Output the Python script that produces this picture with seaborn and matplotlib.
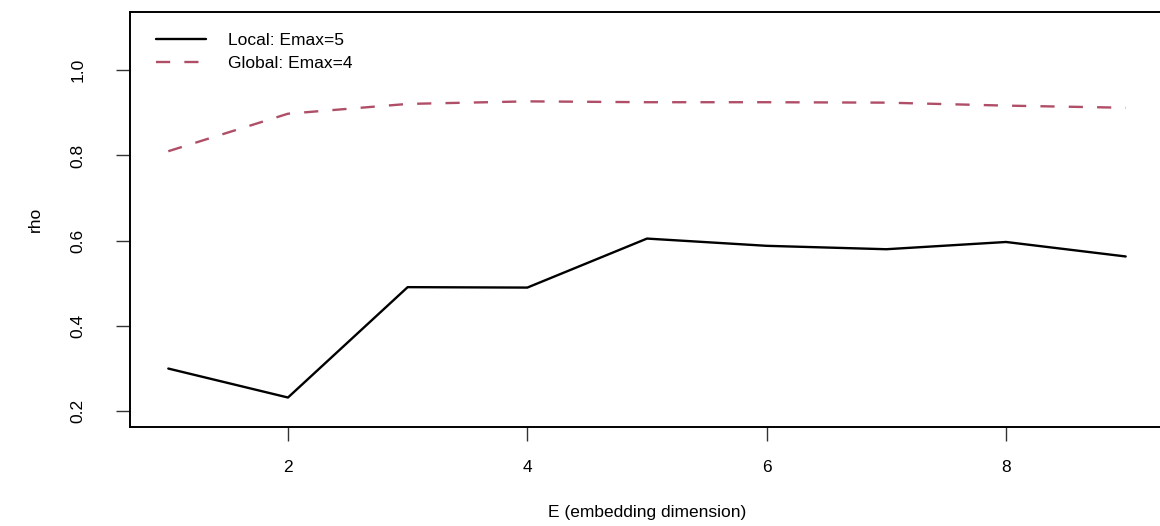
import matplotlib
matplotlib.use("Agg")
import matplotlib.pyplot as plt
import seaborn as sns
import pandas as pd
from matplotlib.lines import Line2D

# ---- data ----
E = [1, 2, 3, 4, 5, 6, 7, 8, 9]
rho_local = [0.300, 0.232, 0.491, 0.490, 0.605, 0.588, 0.580, 0.597, 0.563]
rho_global = [0.810, 0.898, 0.921, 0.927, 0.925, 0.925, 0.924, 0.917, 0.912]
series_labels = ["Local: Emax=5", "Global: Emax=4"]
x_ticks = [2, 4, 6, 8]
y_ticks = [0.2, 0.4, 0.6, 0.8, 1.0]

sns.set_style("ticks")
plt.rcParams['font.family'] = ['Liberation Sans', 'DejaVu Sans']
plt.rcParams['text.color'] = 'black'
plt.rcParams['axes.labelcolor'] = 'black'
plt.rcParams['xtick.labelcolor'] = 'black'
plt.rcParams['ytick.labelcolor'] = 'black'

df_local = pd.DataFrame({"E": E, "rho": rho_local})
df_global = pd.DataFrame({"E": E, "rho": rho_global})

fig = plt.figure(figsize=(11.6, 5.26), dpi=100)
ax = fig.add_axes([130 / 1160, 1 - 426.5 / 526, (1164 - 130) / 1160, (426.5 - 12.3) / 526])

black = "#000000"
rose = "#B04E68"
sns.lineplot(data=df_local, x="E", y="rho", ax=ax, color=black, lw=1.7)
sns.lineplot(data=df_global, x="E", y="rho", ax=ax, color=rose, lw=1.7, dashes=False)
ax.lines[-1].set_dashes((6, 6))

ax.set_xlim(0.68, 9.32)
ax.set_ylim(0.164, 1.136)
ax.set_xticks(x_ticks)
ax.set_xticklabels([str(v) for v in x_ticks], fontsize=12.5)
ax.set_yticks(y_ticks)
ax.set_yticklabels([f"{v:.1f}" for v in y_ticks], fontsize=12.5, rotation=90, va="center")
ax.tick_params(axis="both", direction="out", length=10, width=1.0, color="#333333")
ax.tick_params(axis="x", pad=14)
ax.tick_params(axis="y", pad=22)

for s in ax.spines.values():
    s.set_visible(True)
    s.set_linewidth(1.4)
    s.set_color("black")

ax.set_xlabel("E (embedding dimension)", fontsize=12.5, labelpad=22)
ax.set_ylabel("rho", fontsize=12.5, labelpad=20)

handles = [Line2D([0], [0], color=black, lw=1.7),
           Line2D([0], [0], color=rose, lw=1.7, dashes=(6, 6))]
ax.legend(handles, series_labels, loc="upper left", frameon=False, fontsize=12.5,
          handlelength=2.9, handletextpad=1.3, labelspacing=0.5,
          borderaxespad=0.0, bbox_to_anchor=(0.018, 0.968))

fig.savefig("out.png", dpi=100)
